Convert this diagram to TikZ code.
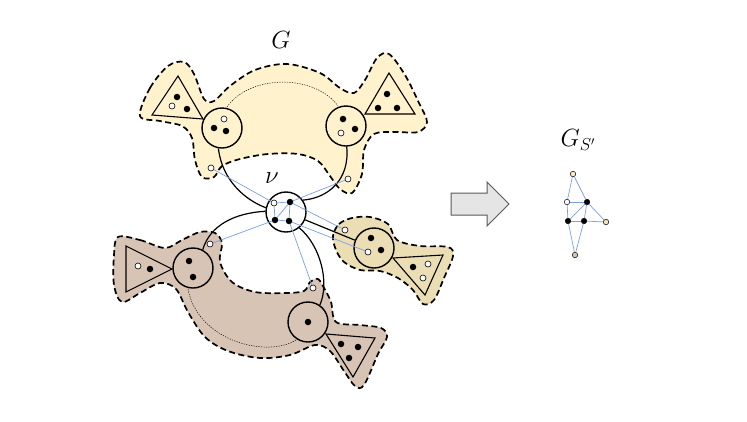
\documentclass[tikz,border=0pt]{standalone}
\usetikzlibrary{calc}
\definecolor{ylw}{RGB}{255,242,204}
\definecolor{brn}{RGB}{216,196,181}
\definecolor{tanb}{RGB}{236,222,180}
\definecolor{eblue}{RGB}{125,158,228}
\definecolor{gyel}{RGB}{250,236,200}
\definecolor{gtan}{RGB}{240,226,185}
\definecolor{gbrn}{RGB}{212,198,172}
\tikzset{
  blob/.style={draw=black,line width=1.7pt,dash pattern=on 6pt off 3.5pt},
  bigc/.style={circle,draw=black,line width=1.4pt,minimum size=40pt,inner sep=0pt},
  tri/.style={draw=black,line width=1.1pt,line join=miter},
  bdot/.style={circle,fill=black,inner sep=0pt,minimum size=6.5pt},
  wdot/.style={circle,draw=black,fill=white,line width=0.6pt,inner sep=0pt,minimum size=6pt},
  sdot/.style={circle,draw=black,line width=0.5pt,inner sep=0pt,minimum size=5.5pt},
  eline/.style={draw=eblue,line width=0.7pt},
  conn/.style={draw=black,line width=1.2pt},
  thin dots/.style={draw=black,line width=0.45pt,dash pattern=on 1.3pt off 1.2pt},
  lbl/.style={inner sep=0pt,font=\fontsize{26}{30}\selectfont}
}
\begin{document}
\begin{tikzpicture}[x=1pt,y=-1pt]
\useasboundingbox (0,0) rectangle (747,421);

% ---------- blobs ----------
\path[blob,fill=ylw] plot[smooth cycle,tension=0.55] coordinates {
 (140,116) (150,88) (168,66) (184,62) (194,74) (204,99) (214,101) (230,86) (255,70)
 (287,64) (320,73) (340,88) (354,93) (365,80) (377,58) (389,54) (405,75) (419,103)
 (427,122) (418,132) (395,132) (374,134) (364,150) (362,174) (352,193) (340,189)
 (330,176) (318,161) (298,154) (268,154) (240,159) (222,166) (214,177) (202,177)
 (195,160) (192,138) (182,126) (160,121)};
\path[blob,fill=brn] plot[smooth cycle,tension=0.55] coordinates {
 (118,237) (140,240) (165,248) (182,240) (200,232) (215,233) (222,243) (220,262)
 (232,282) (255,292) (285,293) (304,291) (310,282) (318,279) (324,288) (331,302)
 (336,322) (360,325) (381,328) (387,337) (378,354) (364,385) (355,386) (344,371)
 (330,351) (315,345) (290,355) (260,358) (228,351) (205,337) (188,312) (176,289)
 (160,283) (140,293) (122,302) (114,285) (114,255)};
\path[blob,fill=tanb] plot[smooth cycle,tension=0.55] coordinates {
 (333,236) (339,224) (352,218) (370,217) (388,224) (397,240) (420,246) (448,247)
 (453,256) (444,278) (434,300) (423,304) (413,290) (398,278) (380,271) (360,270)
 (344,262) (336,250)};

% ---------- dotted arcs ----------
\draw[thin dots] (227,107) .. controls (250,74) and (315,74) .. (338,106);
\draw[thin dots] (188,289) .. controls (198,342) and (268,358) .. (296,340);

% ---------- big circles ----------
\node[bigc,fill=ylw] (lc) at (222,128) {};
\node[bigc,fill=ylw] (rc) at (346,126) {};
\node[bigc,fill=white] (v) at (286,212) {};
\node[bigc,fill=brn] (lc2) at (193,268) {};
\node[bigc,fill=brn] (rc2) at (308,322) {};
\node[bigc,fill=tanb] (tc) at (374,248) {};

% ---------- triangles ----------
\draw[tri] (178,76) -- (152,115) -- (203,119) -- cycle;
\draw[tri] (389,73) -- (365,114) -- (415,114) -- cycle;
\draw[tri] (126,246) -- (126,292) -- (172,269) -- cycle;
\draw[tri] (326,334) -- (375,338) -- (353,377) -- cycle;
\draw[tri] (393,258) -- (443,255) -- (425,295) -- cycle;

% ---------- black connectors ----------
\draw[conn] (lc.-100) .. controls (222,180) and (245,200) .. (v.168);
\draw[conn] (rc.-88) .. controls (350,180) and (328,198) .. (v.35);
\draw[conn] (v.178) .. controls (235,213) and (210,225) .. (lc2.62);
\draw[conn] (v.-50) .. controls (320,245) and (330,282) .. (rc2.55);
\draw[conn] (v) -- (tc);

% ---------- dots ----------
% top blob
\node[bdot] (a1) at (177,97) {};
\node[bdot] (a2) at (187,109) {};
\node[wdot] (a3) at (172,106) {};
\node[wdot] (b1) at (224,119) {};
\node[bdot] (b2) at (214,128) {};
\node[bdot] (b3) at (226,131) {};
\node[bdot] (c1) at (343,119) {};
\node[bdot] (c2) at (355,129) {};
\node[wdot] (c3) at (341,133) {};
\node[bdot] (d1) at (387,94) {};
\node[bdot] (d2) at (378,108) {};
\node[bdot] (d3) at (397,108) {};
\node[wdot] (ty1) at (211,168) {};
\node[wdot] (ty2) at (348,179) {};
% v
\node[wdot] (vw) at (274,203) {};
\node[bdot] (vb1) at (290,202) {};
\node[bdot] (vb2) at (275,220) {};
\node[bdot] (vb3) at (289,221) {};
% brown blob
\node[bdot] (e1) at (189,261) {};
\node[bdot] (e2) at (193,277) {};
\node[wdot] (f1) at (138,266) {};
\node[bdot] (f2) at (150,269) {};
\node[bdot] (g1) at (308,322) {};
\node[bdot] (h1) at (341,344) {};
\node[bdot] (h2) at (358,347) {};
\node[bdot] (h3) at (349,358) {};
\node[wdot] (br1) at (210,244) {};
\node[wdot] (br2) at (313,288) {};
% tan blob
\node[bdot] (t1) at (371,238) {};
\node[wdot] (t2) at (368,252) {};
\node[bdot] (t3) at (381,250) {};
\node[bdot] (u1) at (413,267) {};
\node[wdot] (u2) at (428,264) {};
\node[wdot] (u3) at (423,278) {};
\node[wdot] (tw1) at (345,230) {};

% ---------- blue edges ----------
\draw[eline] (vw) -- (ty1);
\draw[eline] (vb1) -- (ty2);
\draw[eline] (vb1) -- (tw1);
\draw[eline] (vb3) -- (t2);
\draw[eline] (vb2) -- (br1);
\draw[eline] (vb3) -- (br2);
\draw[eline] (vw) -- (vb1);
\draw[eline] (vw) -- (vb2);
\draw[eline] (vb1) -- (vb2);
\draw[eline] (vb1) -- (vb3);
\draw[eline] (vb2) -- (vb3);

% ---------- labels ----------
\node[lbl] (gl) at (281,40) {$G$};
\node[lbl] (nul) at (272,178) {$\nu$};
\node[lbl] (gsl) at (578,140) {$G_{S'}$};

% ---------- arrow ----------
\draw[draw=black!65,fill=black!10,line width=1pt,line join=miter]
  (451,193) -- (487,193) -- (487,182) -- (509,204) -- (487,226) -- (487,215) -- (451,215) -- cycle;

% ---------- G_S' ----------
\node[sdot,fill=gyel] (gt) at (573,174) {};
\node[sdot,fill=white] (gw) at (567,202) {};
\node[sdot,fill=black] (gb1) at (587,202) {};
\node[sdot,fill=black] (gb2) at (568,221) {};
\node[sdot,fill=black] (gb3) at (584,221) {};
\node[sdot,fill=gtan] (gr) at (606,222) {};
\node[sdot,fill=gbrn] (gbot) at (575,255) {};
\foreach \p/\q in {gt/gw,gt/gb1,gw/gb1,gw/gb2,gb1/gb2,gb1/gb3,gb1/gr,gb2/gb3,gb3/gr,gbot/gb2,gbot/gb3}
  \draw[eline] (\p) -- (\q);
\end{tikzpicture}
\end{document}
